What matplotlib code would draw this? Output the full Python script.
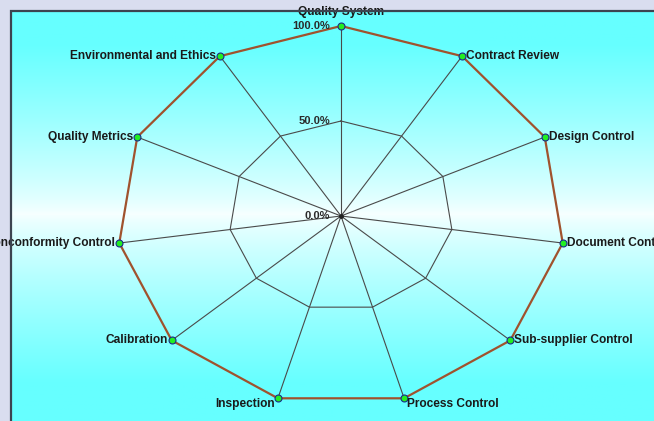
import numpy as np
import matplotlib
matplotlib.use('Agg')
import matplotlib.pyplot as plt
from matplotlib.patches import Rectangle

categories = ['Quality System', 'Contract Review', 'Design Control', 'Document Control',
              'Sub-supplier Control', 'Process Control', 'Inspection', 'Calibration',
              'Nonconformity Control', 'Quality Metrics', 'Environmental and Ethics']
values = [100, 100, 100, 100, 100, 100, 100, 100, 100, 100, 100]
ring_values = [0, 50, 100]
ring_labels = ['0.0%', '50.0%', '100.0%']

W, H = 654, 421
CX, CY = 341, 216          # centre in pixels from top-left
RX, RY = 224, 190          # pixels for 100 %


def radar_chart():
    fig = plt.figure(figsize=(W / 100, H / 100), dpi=100)
    fig.patch.set_facecolor('#d9ddef')

    # gradient background inside the frame
    bg = fig.add_axes([12 / W, 0, 1 - 12 / W, (H - 12) / H])
    ys = np.linspace(12, H, 300)
    t = np.clip(np.abs(ys - 214) / 170, 0, 1)[:, None] ** 0.8
    top = np.array([0.40, 1.0, 1.0])
    mid = np.array([0.97, 1.0, 1.0])
    grad = mid * (1 - t) + top * t
    bg.imshow(np.repeat(grad[:, None, :], 2, axis=1), aspect='auto', extent=[0, 1, 0, 1])
    bg.axis('off')
    fig.add_artist(Rectangle((11 / W, -0.05), 1.1, (H - 11) / H + 0.05,
                             transform=fig.transFigure, fill=False,
                             edgecolor='#3c4450', linewidth=1.6))

    ax = fig.add_axes([0, 0, 1, 1])
    ax.patch.set_alpha(0)
    ax.set_xlim(-CX / RX * 100, (W - CX) / RX * 100)
    ax.set_ylim(-(H - CY) / RY * 100, CY / RY * 100)
    ax.axis('off')

    n = len(categories)
    ang = np.arange(n) * 2 * np.pi / n
    sx, cy = np.sin(ang), np.cos(ang)

    # spokes
    for a, b in zip(sx, cy):
        ax.plot([0, 100 * a], [0, 100 * b], color='#4a4a4a', lw=0.8, zorder=2)
    # 50% ring
    r = ring_values[1]
    ax.plot(np.append(r * sx, r * sx[0]), np.append(r * cy, r * cy[0]),
            color='#4a4a4a', lw=0.8, zorder=2)
    ax.plot(0, 0, 'o', color='#222222', ms=2.5, zorder=3)

    # ring labels
    for rv, lab in zip(ring_values, ring_labels):
        ax.annotate(lab, (0, rv), xytext=(-8, 0), textcoords='offset points',
                    ha='right', va='center', fontsize=8, fontweight='bold',
                    family='Liberation Sans', color='#2a2a2a', zorder=5)

    # data
    v = np.array(values, dtype=float)
    xs, ys2 = v * sx, v * cy
    ax.plot(np.append(xs, xs[0]), np.append(ys2, ys2[0]), color='#a0522d', lw=1.6, zorder=3)
    ax.plot(xs, ys2, 'o', ms=5, mfc='#22ee22', mec='#1a2a8a', mew=0.8, zorder=4)

    for i, lab in enumerate(categories):
        a = sx[i]
        if i == 0:
            off, ha, va = (0, 6), 'center', 'bottom'
        elif i in (5,):
            off, ha, va = (2, -4), 'left', 'center'
        elif i in (6,):
            off, ha, va = (-2, -4), 'right', 'center'
        elif a > 0:
            off, ha, va = (3, 0), 'left', 'center'
        else:
            off, ha, va = (-3, 0), 'right', 'center'
        ax.annotate(lab, (xs[i], ys2[i]), xytext=off, textcoords='offset points',
                    ha=ha, va=va, fontsize=8.6, fontweight='bold',
                    family='Liberation Sans', color='#1a1a1a', zorder=5)

    fig.savefig('out.png', dpi=100, facecolor=fig.get_facecolor())


def main():
    radar_chart()


if __name__ == '__main__':
    main()
